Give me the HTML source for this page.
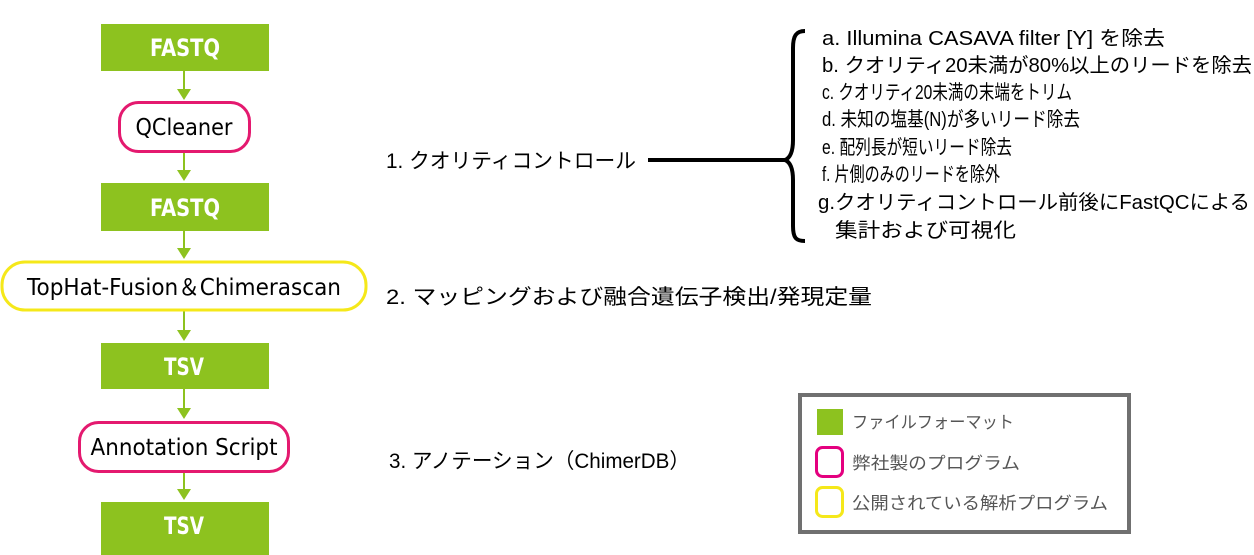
<!DOCTYPE html>
<html><head><meta charset="utf-8"><style>
html,body{margin:0;padding:0;background:#fff;width:1254px;height:555px;overflow:hidden}
svg{display:block}
.w{font-family:"DejaVu Sans","Liberation Sans",sans-serif;font-weight:bold;fill:#fff;font-size:24px}
.n{font-family:"DejaVu Sans","Liberation Sans",sans-serif;fill:#000;font-size:23px}
.j{font-family:"Liberation Sans","Noto Sans CJK JP",sans-serif;fill:#000}
.g{font-family:"Liberation Sans","Noto Sans CJK JP",sans-serif;fill:#555;font-size:17px}
</style></head><body>
<svg width="1254" height="555" viewBox="0 0 1254 555" xmlns="http://www.w3.org/2000/svg">
<g stroke="#8dc21f" stroke-width="2" fill="#8dc21f">
<line x1="184" y1="71" x2="184" y2="94"/><polygon points="177,89 191,89 184,100" stroke="none"/>
<line x1="184" y1="152" x2="184" y2="175"/><polygon points="177,170 191,170 184,181" stroke="none"/>
<line x1="184" y1="231" x2="184" y2="253"/><polygon points="177,248 191,248 184,259" stroke="none"/>
<line x1="184" y1="311" x2="184" y2="335"/><polygon points="177,330 191,330 184,341" stroke="none"/>
<line x1="184" y1="389" x2="184" y2="413"/><polygon points="177,408 191,408 184,419" stroke="none"/>
<line x1="184" y1="472" x2="184" y2="494"/><polygon points="177,489 191,489 184,500" stroke="none"/>
</g>
<g fill="#8dc21f">
<rect x="101" y="24" width="168" height="47"/>
<rect x="101" y="183" width="168" height="48"/>
<rect x="101" y="343" width="168" height="46"/>
<rect x="101" y="502" width="168" height="53"/>
</g>
<text class="w" x="185" y="56" text-anchor="middle" textLength="70" lengthAdjust="spacingAndGlyphs">FASTQ</text>
<text class="w" x="185" y="216" text-anchor="middle" textLength="70" lengthAdjust="spacingAndGlyphs">FASTQ</text>
<text class="w" x="184" y="375" text-anchor="middle" textLength="40" lengthAdjust="spacingAndGlyphs">TSV</text>
<text class="w" x="184" y="534" text-anchor="middle" textLength="40" lengthAdjust="spacingAndGlyphs">TSV</text>
<rect x="119.5" y="102.5" width="130" height="49" rx="19" fill="#fff" stroke="#e4196f" stroke-width="3"/>
<text class="n" x="184" y="135" text-anchor="middle" textLength="97" lengthAdjust="spacingAndGlyphs">QCleaner</text>
<rect x="2" y="262" width="364" height="48" rx="23" fill="#fff" stroke="#f5e81a" stroke-width="3"/>
<text class="n" x="184" y="295" text-anchor="middle" textLength="314" lengthAdjust="spacingAndGlyphs">TopHat-Fusion＆Chimerascan</text>
<rect x="79.5" y="422.5" width="209" height="49" rx="19" fill="#fff" stroke="#e4196f" stroke-width="3"/>
<text class="n" x="184" y="455" text-anchor="middle" textLength="187" lengthAdjust="spacingAndGlyphs">Annotation Script</text>

<text class="j" x="386" y="168" font-size="21" textLength="250" lengthAdjust="spacingAndGlyphs">1. クオリティコントロール</text>
<text class="j" x="386" y="304" font-size="21" textLength="486" lengthAdjust="spacingAndGlyphs">2. マッピングおよび融合遺伝子検出/発現定量</text>
<text class="j" x="389" y="468" font-size="21" textLength="301" lengthAdjust="spacingAndGlyphs">3. アノテーション（ChimerDB）</text>

<line x1="648" y1="160" x2="786" y2="160" stroke="#000" stroke-width="4"/>
<path d="M805,31 C796,31 793,36 793,48 L793,140 C793,152 790,158 785,160 C790,162 793,168 793,180 L793,226 C793,238 796,241 805,241" fill="none" stroke="#000" stroke-width="4"/>

<g class="j" font-size="20">
<text x="822" y="45" textLength="343" lengthAdjust="spacingAndGlyphs">a. Illumina CASAVA filter [Y] を除去</text>
<text x="822" y="72" textLength="430" lengthAdjust="spacingAndGlyphs">b. クオリティ20未満が80%以上のリードを除去</text>
<text x="822" y="99" textLength="250" lengthAdjust="spacingAndGlyphs">c. クオリティ20未満の末端をトリム</text>
<text x="822" y="126" textLength="258" lengthAdjust="spacingAndGlyphs">d. 未知の塩基(N)が多いリード除去</text>
<text x="822" y="154" textLength="190" lengthAdjust="spacingAndGlyphs">e. 配列長が短いリード除去</text>
<text x="822" y="181" textLength="178" lengthAdjust="spacingAndGlyphs">f. 片側のみのリードを除外</text>
<text x="818" y="209" textLength="432" lengthAdjust="spacingAndGlyphs">g.クオリティコントロール前後にFastQCによる</text>
<text x="835" y="237" textLength="181" lengthAdjust="spacingAndGlyphs">集計および可視化</text>
</g>

<rect x="800" y="395" width="329" height="137" fill="#fff" stroke="#707070" stroke-width="4"/>
<rect x="817" y="409" width="26" height="26" fill="#8dc21f"/>
<rect x="816.5" y="447.5" width="26" height="29" rx="6" fill="#fff" stroke="#e4007f" stroke-width="3"/>
<rect x="816.5" y="487.5" width="26" height="29" rx="6" fill="#fff" stroke="#f5e81a" stroke-width="3"/>
<text class="g" x="852" y="428" textLength="162" lengthAdjust="spacingAndGlyphs">ファイルフォーマット</text>
<text class="g" x="852" y="469" textLength="168" lengthAdjust="spacingAndGlyphs">弊社製のプログラム</text>
<text class="g" x="852" y="509" textLength="256" lengthAdjust="spacingAndGlyphs">公開されている解析プログラム</text>
</svg>
</body></html>
